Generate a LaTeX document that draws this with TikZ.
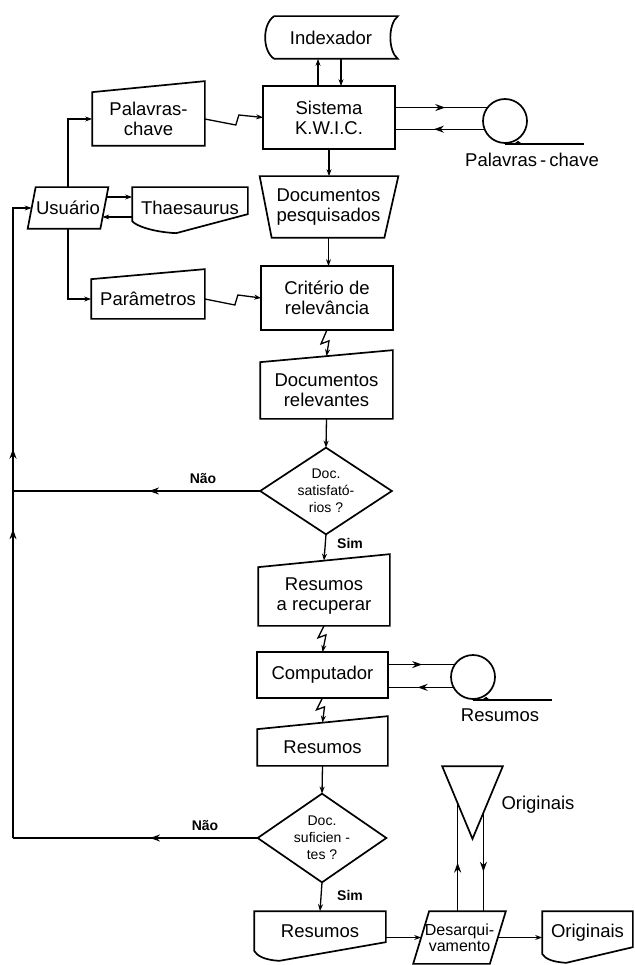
\documentclass[tikz,border=0pt]{standalone}
\usepackage{fontspec}
\setmainfont{Liberation Sans}
\usetikzlibrary{arrows.meta}
\usetikzlibrary{calc}
\usetikzlibrary{decorations.markings}
\tikzset{>={Stealth[length=7pt,width=5pt]}}
\tikzset{
  blk/.style={inner sep=0pt, align=center, font=\fontsize{18.5}{20}\selectfont},
  sz/.style 2 args={minimum width=#1pt, minimum height=#2pt},
  dectext/.style={font=\fontsize{14}{17}\selectfont},
  answer/.style={font=\bfseries\fontsize{14}{16}\selectfont},
  arrowat/.style={postaction={decorate}, decoration={markings, mark=at position #1 with {\arrow{Stealth[length=10pt,width=7pt]}}}},
  tape/.style={circle, draw, minimum size=44pt, inner sep=0pt}
}

\begin{document}
\begin{tikzpicture}[x=1pt, y=-1pt, line width=1.7pt]
  \useasboundingbox (0,0) rectangle (634,965);
  % nodes
  \node[blk, sz={132}{41}] (idx) at (331,37.5) {Indexador};
  \node[blk, sz={130}{61}] (sys) at (329,117.5) {Sistema\\K.W.I.C.};
  \node[blk, sz={111}{52}] (pk) at (148.5,119) {Palavras-\\chave};
  \node[blk, sz={71}{40}] (usr) at (68,208) {Usuário};
  \node[blk, sz={114}{40}] (ths) at (190,208) {Thaesaurus};
  \node[blk, sz={124}{60}] (dpq) at (328.5,207) {Documentos\\pesquisados};
  \node[blk, sz={112}{38}] (pm) at (148,299) {Parâmetros};
  \node[blk, sz={130}{62}] (crit) at (327,298) {Critério de\\relevância};
  \node[blk, sz={131}{55}] (drel) at (326.5,390.5) {Documentos\\relevantes};
  \node[blk, dectext, sz={130}{85}] (dia1) at (326,491) {Doc.\\satisfató-\\rios ?};
  \node[blk, sz={130}{57}] (rrec) at (324,596.5) {Resumos\\a recuperar};
  \node[blk, sz={129}{44}] (comp) at (322.5,675) {Computador};
  \node[blk, sz={129}{35}] (res1) at (322.5,747.5) {Resumos};
  \node[blk, dectext, sz={127}{87}] (dia2) at (322,838) {Doc.\\suficien -\\tes ?};
  \node[blk, sz={130}{38}] (res2) at (320,931) {Resumos};
  \node[blk, sz={75}{51}, font=\fontsize{16}{16}\selectfont] (desq) at (459.5,937.5) {Desarqui-\\vamento};
  \node[blk, sz={89}{41}] (orig) at (587.5,932.5) {Originais};
  \node[blk, sz={59}{71}] (arq) at (472.5,802.5) {};
  \node[tape] (tp1) at (505,121) {};
  \node[tape] (tp2) at (473,677) {};
  \node[blk] (tp1l) at (532,160) {Palavras\,-\,chave};
  \node[blk] (tp2l) at (500,715) {Resumos};
  \node[blk] (arql) at (538,805) {Originais};
  \node[answer] (nao1) at (203,479) {Não};
  \node[answer] (sim1) at (350,543) {Sim};
  \node[answer] (nao2) at (205,826) {Não};
  \node[answer] (sim2) at (350,895) {Sim};
  \coordinate (fb) at (13,0);

  % outlines
  \draw (sys.south west) rectangle (sys.north east);
  \draw (crit.south west) rectangle (crit.north east);
  \draw (comp.south west) rectangle (comp.north east);
  \draw ($(idx.north west)+(10,0)$) -- (idx.north east) .. controls +(-10,8) and +(-10,-8) .. (idx.south east)
    -- ($(idx.south west)+(10,0)$) .. controls +(-12,-8) and +(-12,8) .. ($(idx.north west)+(10,0)$) -- cycle;
  \draw (pk.south west) -- (pk.south east) -- ($(pk.north east)+(0,-11)$) -- (pk.north west) -- cycle;
  \draw (pm.south west) -- (pm.south east) -- ($(pm.north east)+(0,-10)$) -- (pm.north west) -- cycle;
  \draw (drel.south west) -- (drel.south east) -- ($(drel.north east)+(0,-12)$) -- (drel.north west) -- cycle;
  \draw (rrec.south west) -- (rrec.south east) -- ($(rrec.north east)+(0,-13)$) -- (rrec.north west) -- cycle;
  \draw (res1.south west) -- (res1.south east) -- ($(res1.north east)+(0,-13)$) -- (res1.north west) -- cycle;
  \draw ($(usr.north west)+(4,0)$) -- ($(usr.north east)+(4,0)$) -- ($(usr.south east)+(-4,0)$) -- ($(usr.south west)+(-4,0)$) -- cycle;
  \draw ($(desq.north west)+(8,0)$) -- ($(desq.north east)+(8,0)$) -- ($(desq.south east)+(-8,0)$) -- ($(desq.south west)+(-8,0)$) -- cycle;
  \draw ($(dpq.north west)+(-6,0)$) -- ($(dpq.north east)+(7,0)$) -- ($(dpq.south east)+(-7,0)$) -- ($(dpq.south west)+(6,0)$) -- cycle;
  \draw (ths.north west) -- (ths.north east) -- ++(0,27) -- ($(ths.north west)+(44,46)$)
    .. controls ($(ths.north west)+(22,45)$) and ($(ths.north west)+(4,39)$) .. ($(ths.north west)+(0,34)$) -- cycle;
  \draw (res2.north west) -- (res2.north east) -- ++(0,31) -- ($(res2.south west)+(25,10)$)
    .. controls ($(res2.south west)+(10,9)$) and ($(res2.south west)+(3,5)$) .. (res2.south west) -- cycle;
  \draw (orig.north west) -- (orig.north east) -- ++(0,36) -- ($(orig.south west)+(24,9)$)
    .. controls ($(orig.south west)+(10,8)$) and ($(orig.south west)+(3,5)$) .. (orig.south west) -- cycle;
  \draw (dia1.north) -- (dia1.east) -- (dia1.south) -- (dia1.west) -- cycle;
  \draw (dia2.north) -- (dia2.east) -- (dia2.south) -- (dia2.west) -- cycle;
  \draw (arq.north west) -- (arq.north east) -- (arq.south) -- cycle;
  \draw (tp1.south) -- ++(79,0);
  \fill ($(tp1.south)+(9,0)$) -- ++(4,-3) -- ++(4,3) -- cycle;
  \draw (tp2.south) -- ++(79,0);
  \fill ($(tp2.south)+(9,0)$) -- ++(4,-3) -- ++(4,3) -- cycle;

  % connectors
  \begin{scope}[line width=1.3pt]
  \coordinate (iu) at ($(sys.north)+(-11,0)$);
  \coordinate (id) at ($(sys.north)+(12,0)$);
  \draw[->] (iu) -- (iu |- idx.south);
  \draw[<-] (id) -- (id |- idx.south);
  \draw[arrowat=.55] (sys.east |- tp1.144) -- (tp1.144);
  \draw[arrowat=.56] (tp1.201) -- (sys.east |- tp1.201);
  \draw[arrowat=.52] (comp.east |- tp2.147) -- (tp2.147);
  \draw[arrowat=.54] (tp2.207) -- (comp.east |- tp2.207);
  \draw[->] (usr.north) |- (pk.west);
  \draw[->] (usr.south) |- (pm.west);
  \draw[->] ($(usr.east)+(2,-11)$) -- ($(ths.west)+(0,-11)$);
  \draw[->] ($(ths.west)+(0,9)$) -- ($(usr.east)+(-2,9)$);
  \draw[->] (pk.east) -- ++(31,6) -- ++(3,-10) -- (sys.west);
  \draw[->] (pm.east) -- ++(30,6) -- ++(3,-10) -- (crit.west);
  \draw[->] (sys.south) -- (sys.south |- dpq.north);
  \draw[->] (dpq.south) -- (dpq.south |- crit.north);
  \draw[->] (crit.south) -- ++(-6,14) -- ++(8,-3) -- ($(drel.north)+(0,-6)$);
  \draw[->] (drel.south) -- (dia1.north);
  \draw[->] (dia1.south) -- ($(rrec.north)+(0,-6.5)$);
  \draw[->] (rrec.south) -- ++(-6,12) -- ++(8,-3) -- (comp.north);
  \draw[->] (comp.south) -- ++(-6,12) -- ++(8,-3) -- ($(res1.north)+(0,-6.5)$);
  \draw[->] (res1.south) -- (dia2.north);
  \draw[->] (dia2.south) -- (res2.north);
  \draw[->] (res2.east |- desq.west) -- (desq.west);
  \draw[->] (desq.east) -- (orig.west |- desq.east);
  \coordinate (arqa) at ($(arq.north west)!.51!(arq.south)$);
  \coordinate (arqb) at ($(arq.north east)!.64!(arq.south)$);
  \draw[arrowat=.45] (desq.north -| arqa) -- (arqa);
  \draw[arrowat=.6] (arqb) -- (desq.north -| arqb);
  \draw[arrowat=.45] (dia1.west) -- (fb |- dia1.west);
  \draw[arrowat=.44] (dia2.west) -- (fb |- dia2.west);
  \draw[arrowat=.89] (fb |- dia2.west) -- (fb |- dia1.west);
  \draw[->, arrowat=.14] (fb |- dia1.west) |- (usr.west);
  \end{scope}
\end{tikzpicture}
\end{document}
